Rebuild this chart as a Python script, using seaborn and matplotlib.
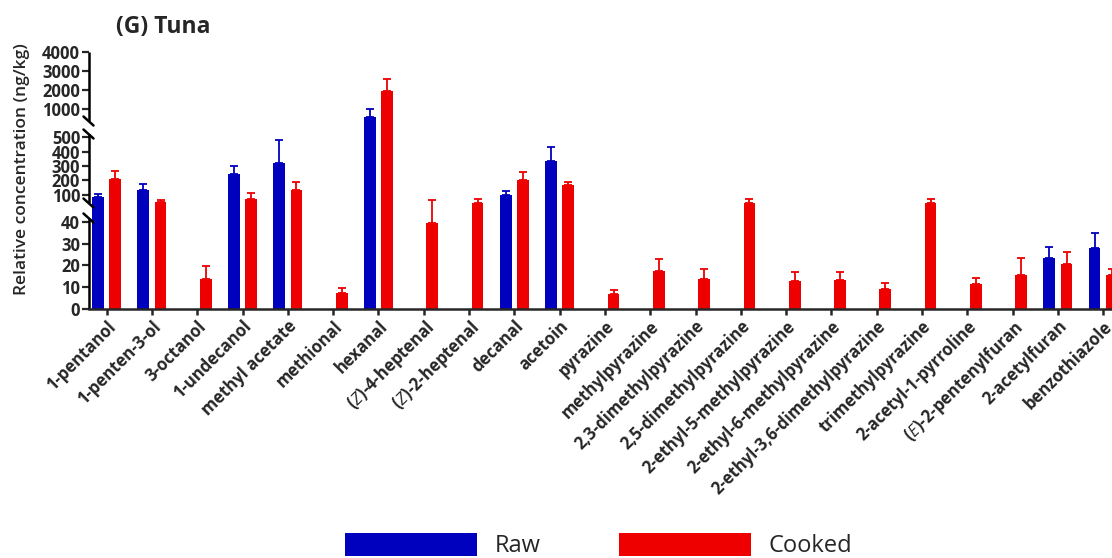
import numpy as np
import pandas as pd
import matplotlib
matplotlib.use("Agg")
import matplotlib.pyplot as plt
from matplotlib.patches import Patch
import seaborn as sns

# ---- data -------------------------------------------------------------
compounds = [
    "1-pentanol", "1-penten-3-ol", "3-octanol", "1-undecanol", "methyl acetate",
    "methional", "hexanal", "($\\mathit{Z}$)-4-heptenal", "($\\mathit{Z}$)-2-heptenal",
    "decanal", "acetoin", "pyrazine", "methylpyrazine", "2,3-dimethylpyrazine",
    "2,5-dimethylpyrazine", "2-ethyl-5-methylpyrazine", "2-ethyl-6-methylpyrazine",
    "2-ethyl-3,6-dimethylpyrazine", "trimethylpyrazine", "2-acetyl-1-pyrroline",
    "($\\mathit{E}$)-2-pentenylfuran", "2-acetylfuran", "benzothiazole",
]
raw_mean = [82, 135, 0, 244, 321, 0, 644, 0, 0, 96, 333, 0,
            0, 0, 0, 0, 0, 0, 0, 0, 0, 23.5, 27.9]
raw_sd = [25, 42, 0, 56, 160, 0, 376, 0, 0, 30, 97, 0,
          0, 0, 0, 0, 0, 0, 0, 0, 0, 4.8, 7.1]
cooked_mean = [207, 51, 13.7, 70, 133, 7.5, 1939, 39.5, 49.5, 203, 168, 6.7,
               17.6, 13.6, 49.5, 12.8, 13.3, 9.0, 49.5, 11.5, 15.4, 20.6, 15.7]
cooked_sd = [58, 12, 6.1, 40, 56, 2.0, 666, 23.5, 22.5, 53, 23, 1.9,
             5.3, 4.9, 20, 4.0, 3.8, 3.1, 20, 2.7, 7.8, 5.5, 2.5]
groups = ["Raw", "Cooked"]
y_ticks = [0, 10, 20, 30, 40, 100, 200, 300, 400, 500, 1000, 2000, 3000, 4000]

df = pd.DataFrame({
    "compound": compounds * 2,
    "group": ["Raw"] * len(compounds) + ["Cooked"] * len(compounds),
    "value": raw_mean + cooked_mean,
})
sds = {"Raw": raw_sd, "Cooked": cooked_sd}

BLUE = "#0000bf"
RED = "#ee0000"
palette = {"Raw": BLUE, "Cooked": RED}

# ---- style ------------------------------------------------------------
sns.set_style("ticks")
plt.rcParams["font.family"] = ["Open Sans", "DejaVu Sans"]
plt.rcParams["mathtext.fontset"] = "custom"
plt.rcParams["mathtext.it"] = "Open Sans:italic"
plt.rcParams["mathtext.rm"] = "Open Sans"

W, H = 1112, 558
fig = plt.figure(figsize=(W / 100, H / 100), dpi=100)

# piecewise-linear (segmented) value axis: 0-40 | 50-650 | 650-4000
V_KNOTS = np.array([0.0, 40.0, 50.0, 650.0, 4000.0])
T_KNOTS = np.array([0.0, 87.3, 107.1, 193.3, 256.7])


def _fwd(v):
    v = np.asarray(v, dtype=float)
    out = np.interp(v, V_KNOTS, T_KNOTS)
    lo_slope = (T_KNOTS[1] - T_KNOTS[0]) / (V_KNOTS[1] - V_KNOTS[0])
    hi_slope = (T_KNOTS[-1] - T_KNOTS[-2]) / (V_KNOTS[-1] - V_KNOTS[-2])
    out = np.where(v < V_KNOTS[0], T_KNOTS[0] + (v - V_KNOTS[0]) * lo_slope, out)
    out = np.where(v > V_KNOTS[-1], T_KNOTS[-1] + (v - V_KNOTS[-1]) * hi_slope, out)
    return out


def _inv(t):
    t = np.asarray(t, dtype=float)
    out = np.interp(t, T_KNOTS, V_KNOTS)
    lo_slope = (V_KNOTS[1] - V_KNOTS[0]) / (T_KNOTS[1] - T_KNOTS[0])
    hi_slope = (V_KNOTS[-1] - V_KNOTS[-2]) / (T_KNOTS[-1] - T_KNOTS[-2])
    out = np.where(t < T_KNOTS[0], V_KNOTS[0] + (t - T_KNOTS[0]) * lo_slope, out)
    out = np.where(t > T_KNOTS[-1], V_KNOTS[-1] + (t - T_KNOTS[-1]) * hi_slope, out)
    return out


left_px, base_px, step_px = 88.5, 309.0, 45.3
x_lo, x_hi = -0.40, 22.6
ax_w = (x_hi - x_lo) * step_px
ax = fig.add_axes([left_px / W, (H - base_px) / H, ax_w / W, T_KNOTS[-1] / H])

sns.barplot(data=df, x="compound", y="value", hue="group", hue_order=groups,
            palette=palette, saturation=1, width=0.76, gap=0.32,
            errorbar=None, linewidth=0, legend=False, ax=ax)

ax.set_yscale("function", functions=(_fwd, _inv))
ax.set_ylim(0, 4000)
ax.set_xlim(x_lo, x_hi)

# one-sided (upper) error bars on each bar
for container, g in zip(ax.containers, groups):
    col = palette[g]
    for bar, sd in zip(container, sds[g]):
        if sd <= 0:
            continue
        xc = bar.get_x() + bar.get_width() / 2
        top = bar.get_height()
        ax.errorbar([xc], [top], yerr=[[0], [sd]], fmt="none", ecolor=col,
                    elinewidth=1.3, capsize=2.6, capthick=1.3, zorder=1)

ax.set_yticks(y_ticks)
ax.set_yticklabels([str(v) for v in y_ticks])
ax.minorticks_off()
ax.set_xlabel("")
ax.set_ylabel("")

for s in ("top", "right", "left"):
    ax.spines[s].set_visible(False)
ax.spines["bottom"].set_linewidth(1.8)
ax.tick_params(axis="y", length=5, width=1.6, direction="out", pad=1,
               labelsize=12)
ax.tick_params(axis="x", length=4, width=1.8, direction="out", pad=2,
               labelsize=12)
for lab in ax.get_yticklabels():
    lab.set_fontweight("bold")
for lab in ax.get_xticklabels():
    lab.set_fontweight("bold")
    lab.set_rotation(45)
    lab.set_ha("right")
    lab.set_rotation_mode("anchor")

# broken left axis line with slash marks at each break
ax_h = T_KNOTS[-1]
segments = [(0.0, 91.0), (106.0, 175.0), (188.0, 256.7)]
for lo, hi in segments:
    ax.plot([0, 0], [lo / ax_h, hi / ax_h], transform=ax.transAxes,
            color="black", lw=1.8, clip_on=False, solid_capstyle="butt")
dx, dy = 5.0 / ax_w, 4.5 / ax_h
for yc in (91.0, 106.0, 175.0, 188.0):
    ax.plot([-dx, dx], [yc / ax_h + dy, yc / ax_h - dy], transform=ax.transAxes,
            color="black", lw=1.8, clip_on=False)

fig.text(116 / W, 1 - 27 / H, "(G) Tuna", ha="left", va="center",
         fontsize=16.5, fontweight="bold")
fig.text(22 / W, 1 - 169 / H, "Relative concentration (ng/kg)", rotation=90,
         ha="center", va="center", fontsize=12.5, fontweight="semibold")

handles = [Patch(facecolor=BLUE, edgecolor="none", label="Raw"),
           Patch(facecolor=RED, edgecolor="none", label="Cooked")]
fig.legend(handles=handles, loc="upper left",
           bbox_to_anchor=(345 / W, 1 - 533 / H), ncol=2, frameon=False,
           handlelength=5.6, handleheight=1.1, handletextpad=0.75,
           columnspacing=3.3, borderpad=0, borderaxespad=0,
           prop={"family": "Open Sans", "size": 17})

fig.savefig("out.png", dpi=100)
